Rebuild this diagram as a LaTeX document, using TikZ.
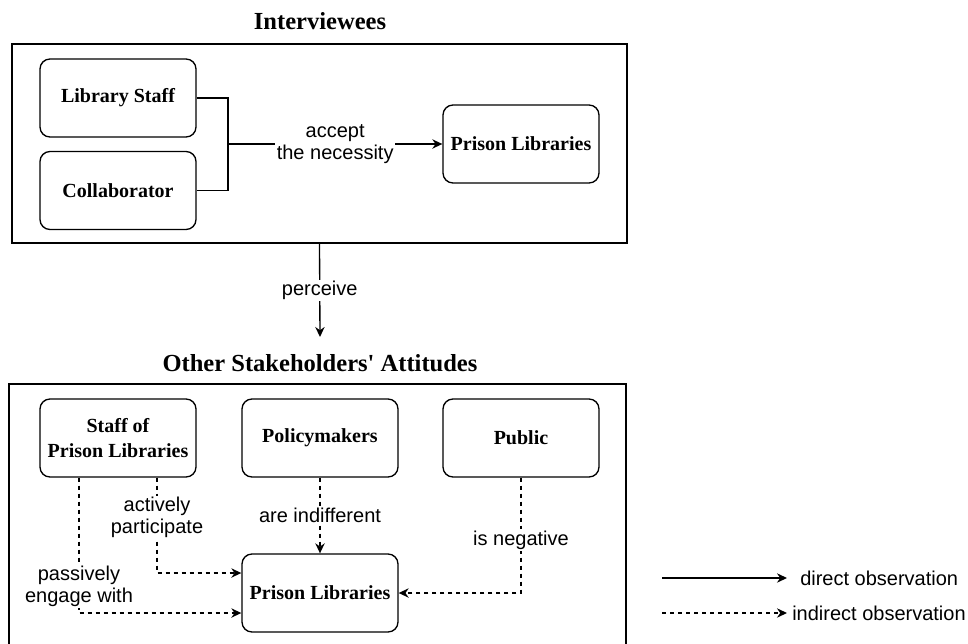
\documentclass[tikz,border=0pt]{standalone}
\usepackage{fontspec}
\setmainfont{Liberation Serif}
\setsansfont{Liberation Sans}
\usetikzlibrary{arrows.meta,calc,fit}
\tikzset{
  box/.style={draw, rounded corners=7.5pt, line width=1pt, minimum width=117pt, minimum height=58.5pt, align=center, font=\bfseries\fontsize{15}{18.75}\selectfont},
  frame/.style={draw, line width=1.1pt, inner sep=0pt},
  title/.style={font=\bfseries\fontsize{18.4}{22}\selectfont},
  lbl/.style={fill=white, align=center, inner sep=1pt, font=\sffamily\fontsize{15}{16.5}\selectfont},
  direct/.style={line width=1pt, -{Stealth[length=7.5pt,width=7pt]}},
  indirect/.style={direct, dash pattern=on 3pt off 3pt},
}
\begin{document}
\begin{tikzpicture}[x=0.75pt,y=-0.75pt]
    \useasboundingbox (0,0) rectangle (968,643);
    \node[title] (inttitle) at (320,21) {Interviewees};
    \node[frame, fit={(12,44) (627,243)}] (intframe) {};
    \node[box] (libstaff) at (118,98) {Library Staff};
    \node[box] (collab) at (118,190.5) {Collaborator};
    \node[box] (toplib) at (521,144) {Prison Libraries};
    \coordinate (joint) at (228,144);
    \draw[line width=1pt] (libstaff.east) -| (joint) |- (collab.east);
    \draw[direct] (joint) -- node[lbl] {accept\\the necessity} (toplib);

    \coordinate (perceiveend) at (320,337);
    \draw[direct] (intframe.south) -- node[lbl] {perceive} (perceiveend);

    \node[title] (othtitle) at (320,363) {Other Stakeholders\textquotesingle{} Attitudes};
    \draw[frame] (9,650) |- (626,384) -- (626,650);
    \node[box] (prstaff) at (118,438) {Staff of\\Prison Libraries};
    \node[box] (policy) at (320,438) {Policymakers};
    \node[box] (public) at (521,438) {Public};
    \node[box] (botlib) at (320,593) {Prison Libraries};
    \draw[indirect] (policy) -- node[lbl] {are indifferent} (botlib);
    \draw[indirect] (public) |- node[lbl, pos=0.27] {is negative} (botlib);
    \draw[indirect] ($(prstaff.south)+(39,0)$) |- node[lbl, pos=0.21] {actively\\participate} ($(botlib.west)+(0,-20)$);
    \draw[indirect] ($(prstaff.south)+(-39,0)$) |- node[lbl, pos=0.4] {passively\\engage with} ($(botlib.west)+(0,20)$);

    \coordinate (dirstart) at (662,578);
    \node[lbl, anchor=west, inner xsep=9.75pt] (dirtxt) at (787,578) {direct observation};
    \draw[direct] (dirstart) -- (dirtxt);
    \coordinate (indstart) at (662,613);
    \node[lbl, anchor=west, inner xsep=3.75pt] (indtxt) at (787,613) {indirect observation};
    \draw[indirect] (indstart) -- (indtxt);
\end{tikzpicture}
\end{document}
